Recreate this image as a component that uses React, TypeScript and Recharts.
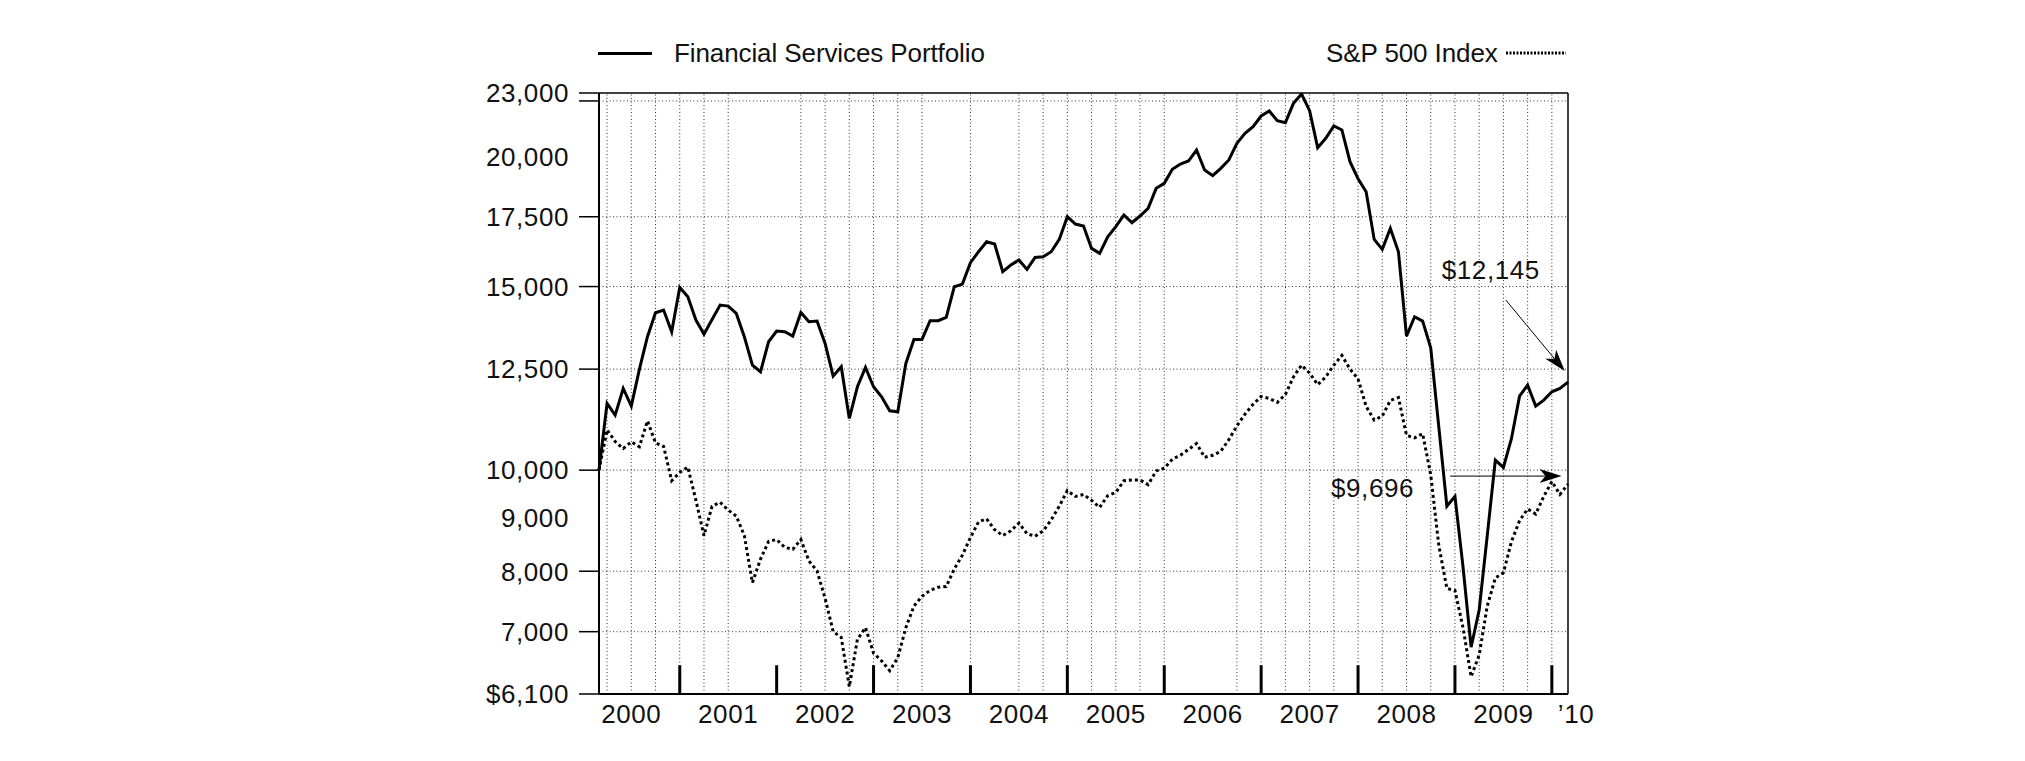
import React from 'react';
import { LineChart, Line, XAxis, YAxis, ReferenceLine, Legend } from 'recharts';

const FONT = '"Liberation Sans", Arial, Helvetica, sans-serif';

// Month-end values, Feb 2000 .. Feb 2010 (121 months), hypothetical $10,000 investment
const fundValues = [
  10000, 11587, 11292, 11977, 11519, 12491, 13426, 14157, 14241, 13575,
  14972, 14667, 13929, 13505, 13950, 14399, 14367, 14136, 13426, 12611,
  12427, 13278, 13595, 13575, 13446, 14168, 13878, 13899, 13230, 12308,
  12565, 11209, 12022, 12546, 12022, 11759, 11401, 11376, 12658, 13347,
  13347, 13909, 13909, 14012, 14994, 15083, 15811, 16200, 16561, 16476,
  15499, 15729, 15904, 15580, 15998, 16022, 16200, 16646, 17502, 17221,
  17145, 16319, 16140, 16745, 17120, 17567, 17272, 17528, 17827, 18633,
  18840, 19432, 19662, 19792, 20280, 19403, 19162, 19475, 19837, 20582,
  21042, 21354, 21862, 22106, 21638, 21543, 22482, 22952, 22121, 20385,
  20810, 21385, 21196, 19763, 19035, 18496, 16646, 16283, 17057, 16200,
  13446, 14033, 13899, 13103, 11005, 9235, 9437, 8076, 6764, 7343,
  8655, 10223, 10060, 10726, 11777, 12066, 11519, 11673, 11889, 11978,
  12145,
];

const spValues = [
  10000, 10932, 10652, 10490, 10646, 10529, 11150, 10620, 10540, 9769,
  9950, 10069, 9356, 8655, 9235, 9315, 9156, 9037, 8655, 7801,
  8217, 8543, 8580, 8433, 8397, 8580, 8182, 8007, 7536, 7002,
  6912, 6200, 6882, 7063, 6677, 6562, 6422, 6608, 7063, 7407,
  7569, 7668, 7721, 7734, 8041, 8289, 8617, 8921, 8980, 8768,
  8655, 8745, 8898, 8692, 8640, 8745, 8959, 9235, 9560, 9437,
  9478, 9356, 9211, 9453, 9519, 9769, 9786, 9786, 9685, 9983,
  10043, 10245, 10334, 10469, 10606, 10290, 10334, 10424, 10698, 11027,
  11317, 11564, 11766, 11715, 11615, 11817, 12286, 12609, 12393, 12076,
  12286, 12609, 12885, 12500, 12233, 11514, 11171, 11268, 11665, 11740,
  10800, 10740, 10840, 9900, 8470, 7701, 7668, 7063, 6338, 6648,
  7407, 7883, 7973, 8543, 8944, 9179, 9077, 9437, 9752, 9478,
  9696,
];

const seriesNames = ['Financial Services Portfolio', 'S&P 500 Index'];
const yearLabels = ['2000', '2001', '2002', '2003', '2004', '2005', '2006', '2007', '2008', '2009', '\u201910'];
const yTickValues = [6100, 7000, 8000, 9000, 10000, 12500, 15000, 17500, 20000, 22600, 23000];
const yGridValues = [7000, 8000, 10000, 12500, 15000, 17500, 22600];
const yUnmarkedTicks = [9000, 20000];
const yUnlabeledTicks = [22600];
const missingGridMonths = [19, 22, 43, 49, 73, 76];
const endLabels = ['$12,145', '$9,696'];

const data = fundValues.map((v, i) => ({ m: i, fund: v, sp: spValues[i] }));
const lastIdx = data.length - 1;
const monthIdx = data.map((d) => d.m);
// Feb 2000 is index 0 -> quarter ends (Mar/Jun/Sep/Dec) are idx % 3 === 1, Decembers idx % 12 === 10
const quarterMonths = monthIdx.filter((m) => m % 3 === 1 && !missingGridMonths.includes(m));
const yearEnds = monthIdx.filter((m) => m % 12 === 10);
const labelPos = yearLabels.map((_, k) => (k < yearLabels.length - 1 ? 4 + 12 * k : lastIdx));

const textStyle: React.CSSProperties = { fontFamily: FONT, fontSize: 26, letterSpacing: 0.6 };

const YTick = (props: any) => {
  const { x, y, payload } = props;
  const v = payload.value;
  const label = v === 6100 ? '$6,100' : v.toLocaleString('en-US');
  return (
    <g>
      {!yUnmarkedTicks.includes(v) && (
        <line x1={x + 10} y1={y} x2={x + 30} y2={y} stroke="#000" strokeWidth={1.5} />
      )}
      {!yUnlabeledTicks.includes(v) && (
        <text x={x} y={y + 9.3} textAnchor="end" fill="#111" style={textStyle}>
          {label}
        </text>
      )}
    </g>
  );
};

const XTick = (props: any) => {
  const { x, y, payload } = props;
  const k = labelPos.indexOf(payload.value);
  const dx = payload.value === lastIdx ? 8 : 0;
  return (
    <text x={x + dx} y={y + 28.5} textAnchor="middle" fill="#111" style={textStyle}>
      {yearLabels[k]}
    </text>
  );
};

const arrowShape = (label: string, tdx: number, tdy: number, anchor: 'start' | 'middle' | 'end') => (p: any) => {
  const { x1, y1, x2, y2 } = p;
  const ang = Math.atan2(y2 - y1, x2 - x1);
  const L = 22;
  const W = 7;
  const c = Math.cos(ang);
  const s = Math.sin(ang);
  const bx = x2 - L * c;
  const by = y2 - L * s;
  const nx = x2 - (L - 6) * c;
  const ny = y2 - (L - 6) * s;
  const px = -s * W;
  const py = c * W;
  return (
    <g>
      <line x1={x1} y1={y1} x2={nx} y2={ny} stroke="#000" strokeWidth={1} />
      <polygon points={`${x2},${y2} ${bx + px},${by + py} ${nx},${ny} ${bx - px},${by - py}`} fill="#000" />
      <text x={x1 + tdx} y={y1 + tdy} textAnchor={anchor} fill="#111" style={textStyle}>
        {label}
      </text>
    </g>
  );
};

const renderLegend = () => (
  <div style={{ position: 'relative', width: 2009, height: 30, fontFamily: FONT, fontSize: 26, color: '#111' }}>
    <div style={{ position: 'absolute', left: 590, top: 13.5, width: 54, height: 3, background: '#000' }} />
    <span style={{ position: 'absolute', left: 666, top: 0, lineHeight: '30px', letterSpacing: -0.1, whiteSpace: 'nowrap' }}>
      {seriesNames[0]}
    </span>
    <span style={{ position: 'absolute', left: 1318, top: 0, lineHeight: '30px', letterSpacing: -0.1, whiteSpace: 'nowrap' }}>
      {seriesNames[1]}
    </span>
    <svg style={{ position: 'absolute', left: 1497, top: 12 }} width={62} height={6}>
      <line x1={1} y1={3} x2={61} y2={3} stroke="#000" strokeWidth={3} strokeDasharray="2 1.5" />
    </svg>
  </div>
);

export default function App() {
  const grid = { stroke: '#333', strokeWidth: 1, strokeDasharray: '1 2.5' };
  return (
    <div style={{ width: 2009, height: 740, background: '#fff' }}>
      <LineChart
        width={2009}
        height={740}
        data={data}
        margin={{ top: 85, right: 449, bottom: 14, left: 491 }}
      >
        <XAxis
          dataKey="m"
          type="number"
          domain={[0, lastIdx]}
          ticks={labelPos}
          interval={0}
          tick={<XTick />}
          tickLine={false}
          tickSize={0}
          tickMargin={0}
          height={40}
          axisLine={{ stroke: '#000', strokeWidth: 2 }}
        />
        <YAxis
          type="number"
          scale="log"
          domain={[6100, 23000]}
          allowDataOverflow
          ticks={yTickValues}
          interval={0}
          tick={<YTick />}
          tickLine={false}
          tickSize={20}
          tickMargin={10}
          width={100}
          axisLine={{ stroke: '#000', strokeWidth: 2 }}
        />
        {yGridValues.map((v) => (
          <ReferenceLine key={'h' + v} y={v} {...grid} />
        ))}
        {quarterMonths.map((m) => (
          <ReferenceLine key={'v' + m} x={m} {...grid} />
        ))}
        <ReferenceLine y={23000} stroke="#000" strokeWidth={1.5} />
        <ReferenceLine x={lastIdx} stroke="#000" strokeWidth={1.5} />
        {yearEnds.map((m) => (
          <ReferenceLine
            key={'t' + m}
            segment={[{ x: m, y: 6100 }, { x: m, y: 6500 }]}
            stroke="#000"
            strokeWidth={3}
          />
        ))}
        <Line
          type="linear"
          dataKey="sp"
          name={seriesNames[1]}
          stroke="#000"
          strokeWidth={3}
          strokeDasharray="3 3"
          dot={false}
          isAnimationActive={false}
        />
        <Line
          type="linear"
          dataKey="fund"
          name={seriesNames[0]}
          stroke="#000"
          strokeWidth={3}
          dot={false}
          isAnimationActive={false}
        />
        <ReferenceLine
          segment={[{ x: 112.3, y: 14560 }, { x: 119.6, y: 12445 }]}
          shape={arrowShape(endLabels[0], -15, -21, 'middle')}
        />
        <ReferenceLine
          segment={[{ x: 105.4, y: 9870 }, { x: 119.2, y: 9870 }]}
          shape={arrowShape(endLabels[1], -36, 21, 'end')}
        />
        <Legend
          layout="horizontal"
          verticalAlign="middle"
          align="center"
          content={renderLegend}
          wrapperStyle={{ top: 30, left: 0, width: 2009, height: 30 }}
        />
      </LineChart>
    </div>
  );
}
